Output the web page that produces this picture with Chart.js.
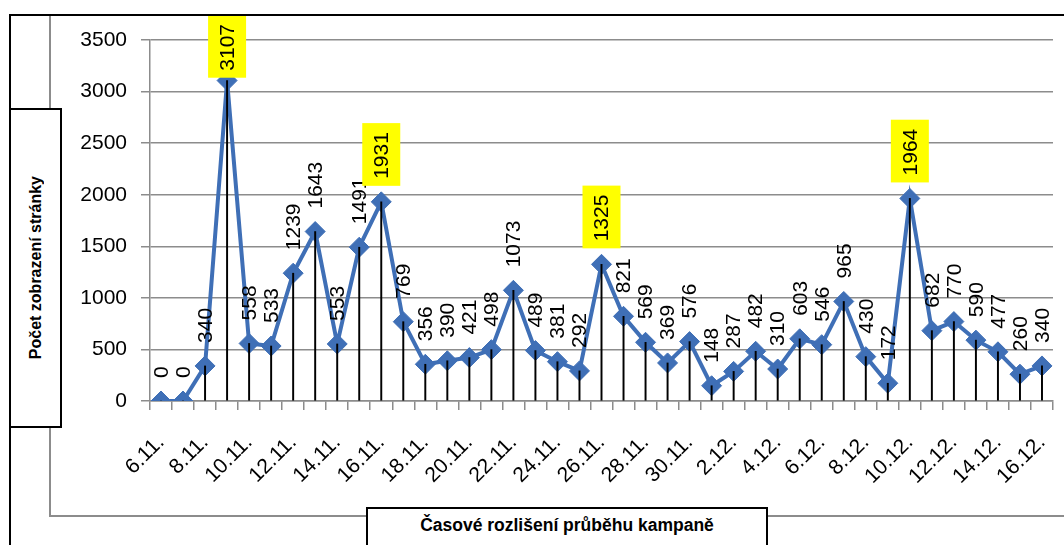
<!DOCTYPE html>
<html>
<head>
<meta charset="utf-8">
<script src="https://cdn.jsdelivr.net/npm/chart.js@4.4.0/dist/chart.umd.min.js"></script>
<style>
  html, body { margin: 0; padding: 0; background: #fff; }
  #wrap { position: relative; width: 1064px; height: 545px; overflow: hidden; background: #fff; }
  #chart { position: absolute; left: 0; top: 0; }
  .frame-outer { position: absolute; left: 9px; top: 14px; width: 1100px; height: 600px;
    border-left: 2px solid #000; border-top: 2px solid #000; }
  .frame-inner { position: absolute; left: 49px; top: 15px; width: 1100px; height: 500px;
    border-left: 2px solid #8c8c8c; border-bottom: 2px solid #8c8c8c; }
  .title-y { position: absolute; left: 9px; top: 108px; width: 53px; height: 320px; box-sizing: border-box;
    border: 2px solid #000; background: #fff; display: flex; align-items: center; justify-content: center; }
  .title-y span { writing-mode: vertical-rl; transform: rotate(180deg);
    font: bold 16px "Liberation Sans", Arial, sans-serif; color: #000; white-space: nowrap; }
  .title-x { position: absolute; left: 366px; top: 507px; width: 402px; height: 60px; box-sizing: border-box;
    border: 2px solid #000; background: #fff; text-align: center; line-height: 32px;
    font: bold 17.5px "Liberation Sans", Arial, sans-serif; color: #000; }
  .title-x span { line-height: 32px; display: inline-block; }
</style>
</head>
<body>
<div id="wrap">
  <canvas id="chart" width="1064" height="545"></canvas>
  <div class="frame-inner"></div>
  <div class="frame-outer"></div>
  <div class="title-y"><span>Počet zobrazení stránky</span></div>
  <div class="title-x"><span>Časové rozlišení průběhu kampaně</span></div>
</div>
<script>
// dates of the campaign (every day, only every second one is labelled)
const dates = [
    '6.11.', '7.11.', '8.11.', '9.11.', '10.11.', '11.11.', '12.11.', '13.11.', '14.11.', '15.11.',
    '16.11.', '17.11.', '18.11.', '19.11.', '20.11.', '21.11.', '22.11.', '23.11.', '24.11.', '25.11.',
    '26.11.', '27.11.', '28.11.', '29.11.', '30.11.', '1.12.', '2.12.', '3.12.', '4.12.', '5.12.',
    '6.12.', '7.12.', '8.12.', '9.12.', '10.12.', '11.12.', '12.12.', '13.12.', '14.12.', '15.12.',
    '16.12.'
];

// page views per day
const views = [
    0, 0, 340, 3107, 558, 533, 1239, 1643, 553, 1491,
    1931, 769, 356, 390, 421, 498, 1073, 489, 381, 292,
    1325, 821, 569, 369, 576, 148, 287, 482, 310, 603,
    546, 965, 430, 172, 1964, 682, 770, 590, 477, 260,
    340
];

// peaks with yellow label background
const highlighted = [3, 10, 20, 34];

const yMin = 0;
const yMax = 3500;
const yStep = 500;

const lineBlue = '#3F6FB6';
const gridGray = '#8c8c8c';

// Rotated value labels above points, peaks on yellow
const pointLabels = {
    id: 'pointLabels',
    afterDatasetsDraw(chart) {
        const meta = chart.getDatasetMeta(1);
        const ctx = chart.ctx;
        ctx.save();
        ctx.font = '21px "Liberation Sans", Arial, sans-serif';
        meta.data.forEach((pt, i) => {
            const text = String(views[i]);
            const w = ctx.measureText(text).width;
            let start = pt.y - 23;
            if (highlighted.includes(i)) {
                let boxBottom = pt.y - 16;
                let boxTop = boxBottom - (w + 16);
                if (boxTop < 15) {
                    const shift = 15 - boxTop;
                    boxTop += shift;
                    boxBottom += shift;
                    start += shift;
                }
                ctx.fillStyle = '#ffff00';
                ctx.fillRect(pt.x - 19, boxTop, 38, boxBottom - boxTop);
            }
            ctx.save();
            ctx.translate(pt.x, start);
            ctx.rotate(-Math.PI / 2);
            ctx.fillStyle = '#000';
            ctx.textAlign = 'left';
            ctx.textBaseline = 'middle';
            ctx.fillText(text, 0, 1);
            ctx.restore();
        });
        ctx.restore();
    }
};

new Chart(document.getElementById('chart'), {
    data: {
        labels: dates,
        datasets: [{
            // thin black drop lines from each point to the axis
            type: 'bar',
            data: views,
            backgroundColor: '#000',
            barThickness: 1.3,
            borderWidth: 0,
            order: 0
        }, {
            type: 'line',
            data: views,
            borderColor: lineBlue,
            borderWidth: 4,
            tension: 0,
            pointStyle: 'rectRot',
            pointRadius: 10,
            pointBackgroundColor: lineBlue,
            pointBorderColor: lineBlue,
            pointBorderWidth: 1,
            order: 1
        }]
    },
    options: {
        responsive: false,
        animation: false,
        layout: { padding: { top: 40, right: 7, left: 0, bottom: 0 } },
        plugins: {
            legend: { display: false },
            title: { display: false },
            tooltip: { enabled: false }
        },
        scales: {
            x: {
                type: 'category',
                offset: true,
                afterFit(scale) {
                    scale.height = 144;
                    scale.paddingLeft = 0;
                    scale.paddingRight = 0;
                },
                grid: {
                    offset: true,
                    drawOnChartArea: false,
                    drawTicks: true,
                    tickLength: 9,
                    color: gridGray,
                    lineWidth: 1.5
                },
                border: { display: true, color: gridGray, width: 1.5 },
                ticks: {
                    autoSkip: false,
                    maxRotation: 45,
                    minRotation: 45,
                    padding: 20,
                    color: '#000',
                    font: { family: '"Liberation Sans", Arial, sans-serif', size: 21 },
                    callback: function (value, index) {
                        return index % 2 === 0 ? this.getLabelForValue(value) : '';
                    }
                }
            },
            y: {
                min: yMin,
                max: yMax,
                afterFit(scale) { scale.width = 150; },
                grid: {
                    color: gridGray,
                    lineWidth: 1.5,
                    tickLength: 9
                },
                border: { display: true, color: gridGray, width: 1.5 },
                ticks: {
                    stepSize: yStep,
                    padding: 14,
                    color: '#000',
                    font: { family: '"Liberation Sans", Arial, sans-serif', size: 21 },
                    callback: value => String(value)
                }
            }
        }
    },
    plugins: [pointLabels]
});
</script>
</body>
</html>
